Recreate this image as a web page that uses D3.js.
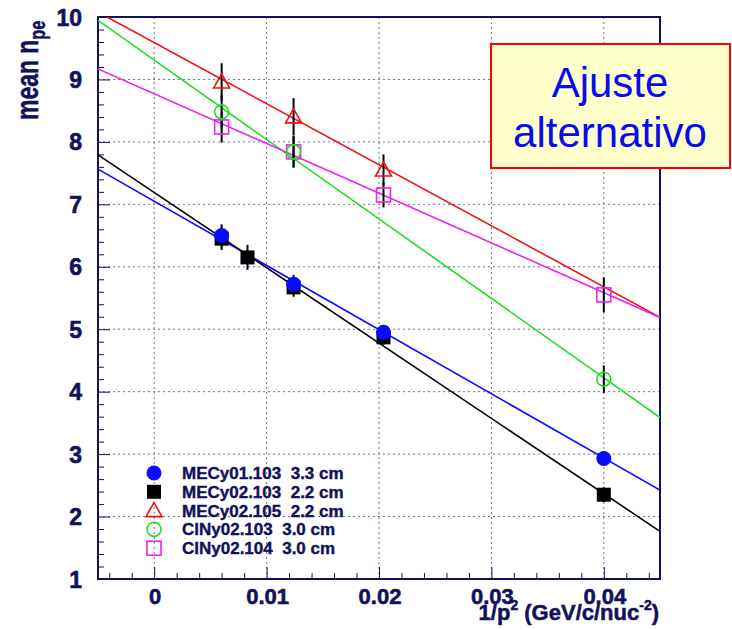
<!DOCTYPE html>
<html>
<head>
<meta charset="utf-8">
<script src="https://cdn.jsdelivr.net/npm/d3@7"></script>
<style>
  body { margin: 0; background: #fff; }
  svg text { font-family: "Liberation Sans", Arial, sans-serif; white-space: pre; }
</style>
</head>
<body>
<div id="chart"></div>
<script>
// size
var chart_width = 732;
var chart_height = 630;
var margin = {top: 17, right: 72, bottom: 51, left: 98};

// data
var series_names = ['MECy01.103  3.3 cm', 'MECy02.103  2.2 cm', 'MECy02.105  2.2 cm',
                    'ClNy02.103  3.0 cm', 'ClNy02.104  3.0 cm'];
var series_colors = ['#0a0aff', '#000000', '#ee1111', '#22dd22', '#ee22ee'];
var series_symbols = ['circleFilled', 'squareFilled', 'triangle', 'circle', 'square'];

var blue_x = [0.006, 0.0124, 0.0204, 0.04];
var blue_y = [6.50, 5.72, 4.95, 2.93];
var blue_err = [0.18, 0.15, 0.12, 0.12];

var black_x = [0.006, 0.0083, 0.0124, 0.0204, 0.04];
var black_y = [6.45, 6.15, 5.67, 4.87, 2.35];
var black_err = [0.18, 0.2, 0.15, 0.12, 0.12];

var red_x = [0.006, 0.0124, 0.0204];
var red_y = [8.96, 8.40, 7.55];
var red_err = [0.3, 0.3, 0.25];

var green_x = [0.006, 0.0124, 0.04];
var green_y = [8.48, 7.84, 4.20];
var green_err = [0.28, 0.25, 0.22];

var pink_x = [0.006, 0.0124, 0.0204, 0.04];
var pink_y = [8.24, 7.84, 7.15, 5.55];
var pink_err = [0.25, 0.25, 0.2, 0.28];

// straight line fits: y = intercept + slope * x
var fit_intercept = [7.05, 7.19, 9.59, 9.31, 8.77];
var fit_slope = [-102.8, -120.6, -97.8, -127.2, -79.6];

var x_ticks = [0, 0.01, 0.02, 0.03, 0.04];
var x_tick_labels = ['0', '0.01', '0.02', '0.03', '0.04'];
var y_ticks = [1, 2, 3, 4, 5, 6, 7, 8, 9, 10];

var note_lines = ['Ajuste', 'alternativo'];

var all_x = [blue_x, black_x, red_x, green_x, pink_x];
var all_y = [blue_y, black_y, red_y, green_y, pink_y];
var all_err = [blue_err, black_err, red_err, green_err, pink_err];

var navy = '#12125a';

// scales
var x = d3.scaleLinear().domain([-0.005, 0.045])
          .range([margin.left, chart_width - margin.right]);
var y = d3.scaleLinear().domain([1, 10])
          .range([chart_height - margin.bottom, margin.top]);

var svg = d3.select('#chart')
            .append('svg')
            .attr('width', chart_width)
            .attr('height', chart_height);

svg.append('defs').append('clipPath').attr('id', 'frame')
   .append('rect')
   .attr('x', x.range()[0]).attr('y', y.range()[1])
   .attr('width', x.range()[1] - x.range()[0])
   .attr('height', y.range()[0] - y.range()[1]);

// grid
svg.append('g').selectAll('line')
   .data(x_ticks)
   .enter().append('line')
   .attr('x1', function(d){ return x(d); })
   .attr('x2', function(d){ return x(d); })
   .attr('y1', y(1)).attr('y2', y(10))
   .attr('stroke', '#7070a0').attr('stroke-width', 1)
   .attr('stroke-dasharray', '2,3');
svg.append('g').selectAll('line')
   .data(y_ticks.slice(1, -1))
   .enter().append('line')
   .attr('y1', function(d){ return y(d); })
   .attr('y2', function(d){ return y(d); })
   .attr('x1', x(-0.005)).attr('x2', x(0.045))
   .attr('stroke', '#7070a0').attr('stroke-width', 1)
   .attr('stroke-dasharray', '2,3');

// axes (ticks pointing into the frame)
var x_axis = d3.axisTop(x).tickValues(d3.range(-0.004, 0.0451, 0.002)).tickFormat('')
               .tickSize(6).tickSizeOuter(0);
svg.append('g').attr('transform', 'translate(0,' + y(1) + ')').call(x_axis)
   .call(function(g){
       g.select('.domain').remove();
       g.selectAll('line').attr('stroke', navy).attr('stroke-width', 1)
        .attr('y2', function(d){ return Math.abs(Math.round(d * 100) - d * 100) < 1e-6 ? -12 : -6; });
   });
var y_axis = d3.axisRight(y).tickValues(d3.range(1, 10.01, 0.2)).tickFormat('')
               .tickSize(6).tickSizeOuter(0);
svg.append('g').attr('transform', 'translate(' + x(-0.005) + ',0)').call(y_axis)
   .call(function(g){
       g.select('.domain').remove();
       g.selectAll('line').attr('stroke', navy).attr('stroke-width', 1)
        .attr('x2', function(d){ return Math.abs(Math.round(d) - d) < 1e-6 ? 12 : 6; });
   });

// frame
svg.append('rect')
   .attr('x', x.range()[0]).attr('y', y.range()[1])
   .attr('width', x.range()[1] - x.range()[0])
   .attr('height', y.range()[0] - y.range()[1])
   .attr('fill', 'none').attr('stroke', navy).attr('stroke-width', 2);

// tick labels
svg.append('g').selectAll('text')
   .data(y_ticks)
   .enter().append('text')
   .attr('x', 82)
   .attr('y', function(d){ return y(d) + 8.5; })
   .attr('text-anchor', 'end')
   .attr('font-size', '23px').attr('font-weight', 'bold')
   .attr('fill', navy).attr('stroke', navy).attr('stroke-width', 0.6)
   .text(function(d){ return d; });
svg.append('g').selectAll('text')
   .data(x_ticks)
   .enter().append('text')
   .attr('x', function(d){ return x(d) + 1; })
   .attr('y', 604)
   .attr('text-anchor', 'middle')
   .attr('font-size', '22px').attr('font-weight', 'bold')
   .attr('fill', navy).attr('stroke', navy).attr('stroke-width', 0.6)
   .text(function(d, i){ return x_tick_labels[i]; });

// axis titles
var ytitle = svg.append('text')
   .attr('transform', 'translate(38,120) rotate(-90) scale(0.74,1)')
   .attr('font-size', '31px').attr('font-weight', 'bold')
   .attr('fill', navy).attr('stroke', navy).attr('stroke-width', 0.5);
ytitle.append('tspan').text('mean n');
ytitle.append('tspan').attr('font-size', '22px').attr('dy', 7).text('pe');

var xtitle = svg.append('text')
   .attr('x', 659).attr('y', 620)
   .attr('text-anchor', 'end')
   .attr('font-size', '22px').attr('font-weight', 'bold')
   .attr('fill', navy).attr('stroke', navy).attr('stroke-width', 0.5);
xtitle.append('tspan').text('1/p');
xtitle.append('tspan').attr('font-size', '14px').attr('dy', -10).text('2');
xtitle.append('tspan').attr('dy', 10).text(' (GeV/c/nuc');
xtitle.append('tspan').attr('font-size', '14px').attr('dy', -10).text('-2');
xtitle.append('tspan').attr('dy', 10).text(')');

// fit lines
var plot = svg.append('g').attr('clip-path', 'url(#frame)');
var line = d3.line().x(function(d){ return x(d[0]); }).y(function(d){ return y(d[1]); });
fit_intercept.forEach(function(b, i){
    var m = fit_slope[i];
    var pts = [-0.005, 0.045].map(function(v){ return [v, b + m * v]; });
    plot.append('path')
        .attr('d', line(pts))
        .attr('fill', 'none')
        .attr('stroke', series_colors[i])
        .attr('stroke-width', 1.6);
});

// markers
function drawMarker(g, kind, color, cx, cy) {
    if (kind === 'circleFilled') {
        g.append('circle').attr('cx', cx).attr('cy', cy).attr('r', 7.5).attr('fill', color);
    } else if (kind === 'squareFilled') {
        g.append('rect').attr('x', cx - 7).attr('y', cy - 7).attr('width', 14).attr('height', 14).attr('fill', color);
    } else if (kind === 'triangle') {
        g.append('path').attr('d', 'M' + cx + ',' + (cy - 8) + 'L' + (cx + 8) + ',' + (cy + 6) + 'L' + (cx - 8) + ',' + (cy + 6) + 'Z')
         .attr('fill', 'none').attr('stroke', color).attr('stroke-width', 1.6);
    } else if (kind === 'circle') {
        g.append('circle').attr('cx', cx).attr('cy', cy).attr('r', 7).attr('fill', 'none')
         .attr('stroke', color).attr('stroke-width', 1.6);
    } else {
        g.append('rect').attr('x', cx - 7).attr('y', cy - 7).attr('width', 14).attr('height', 14)
         .attr('fill', 'none').attr('stroke', color).attr('stroke-width', 1.6);
    }
}

// error bars
all_x.forEach(function(xs, i){
    xs.forEach(function(xv, j){
        plot.append('line')
            .attr('x1', x(xv)).attr('x2', x(xv))
            .attr('y1', y(all_y[i][j] - all_err[i][j]))
            .attr('y2', y(all_y[i][j] + all_err[i][j]))
            .attr('stroke', '#000').attr('stroke-width', 2);
    });
});
// draw order: black, blue, pink, green, red
[1, 0, 4, 3, 2].forEach(function(i){
    var g = plot.append('g');
    all_x[i].forEach(function(xv, j){
        drawMarker(g, series_symbols[i], series_colors[i], x(xv), y(all_y[i][j]));
    });
});

// legend
var legend = svg.append('g');
series_names.forEach(function(name, i){
    var ly = 473 + i * 18.8;
    drawMarker(legend, series_symbols[i], series_colors[i], 154, ly);
    legend.append('text')
          .attr('x', 182).attr('y', ly + 6)
          .attr('font-size', '17px').attr('font-weight', 'bold')
          .attr('fill', navy).attr('stroke', navy).attr('stroke-width', 0.4)
          .text(name);
});

// note box
svg.append('rect')
   .attr('x', 491).attr('y', 44).attr('width', 239).attr('height', 124)
   .attr('fill', '#ffffcc').attr('stroke', '#ff0000').attr('stroke-width', 2);
svg.append('g').selectAll('text')
   .data(note_lines)
   .enter().append('text')
   .attr('x', 610)
   .attr('y', function(d, i){ return 97 + i * 50; })
   .attr('text-anchor', 'middle')
   .attr('font-size', '42px')
   .attr('fill', '#0a0aee')
   .text(function(d){ return d; });
</script>
</body>
</html>
